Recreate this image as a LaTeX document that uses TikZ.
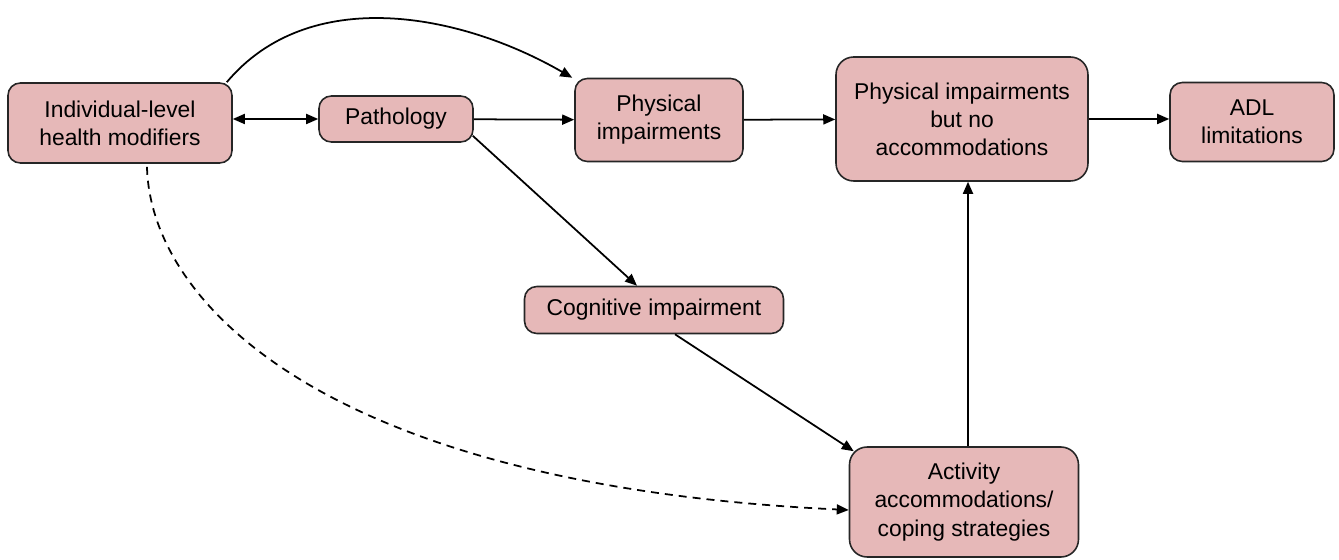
\documentclass[tikz,border=0pt]{standalone}
\usepackage{fontspec}
\setmainfont{Liberation Sans}
\usetikzlibrary{arrows.meta}
\definecolor{boxpink}{HTML}{E6B8B8}
\begin{document}
\begin{tikzpicture}[x=0.02cm, y=-0.02cm,
    box/.style={draw=black!85, fill=boxpink, line width=0.9pt, rounded corners=7pt,
        align=center, font=\fontsize{13}{16}\selectfont, inner sep=2pt},
    arr/.style={line width=1pt, -{Triangle[length=0.24cm,width=0.2cm]}}]
    \useasboundingbox (0,0) rectangle (1339,560);

    \node[box, minimum width=4.48cm, minimum height=1.6cm] (ind) at (120,123) {Individual-level\\health modifiers};
    \node[box, minimum width=3.08cm, minimum height=0.92cm] (patho) at (396,119) {Pathology};
    \node[box, minimum width=3.36cm, minimum height=1.66cm] (phys) at (659,120) {Physical\\impairments};
    \node[box, minimum width=5.04cm, minimum height=2.48cm, rounded corners=10pt] (pib) at (962,119) {Physical impairments\\but no\\accommodations};
    \node[box, minimum width=3.28cm, minimum height=1.58cm] (adl) at (1252,122) {ADL\\limitations};
    \node[box, minimum width=5.18cm, minimum height=0.94cm] (cog) at (654,310) {Cognitive impairment};
    \node[box, minimum width=4.58cm, minimum height=2.2cm, rounded corners=10pt] (act) at (964,502) {Activity\\accommodations/\\coping strategies};

    \draw[arr, {Triangle[length=0.24cm,width=0.2cm]}-{Triangle[length=0.24cm,width=0.2cm]}] (patho.west -| ind.east) -- (patho.west);
    \draw[arr] (patho) -- (phys);
    \draw[arr] (phys) -- (pib);
    \draw[arr] (pib.east) -- (pib.east -| adl.west);
    \draw[arr] ([xshift=-0.12cm]ind.north east) to[out=50, in=150, looseness=0.95] ([xshift=-0.04cm]phys.north west);
    \draw[arr] ([shift={(-0.02cm,0.14cm)}]patho.south east) -- ([xshift=-0.34cm]cog.north);
    \draw[arr] ([xshift=0.42cm]cog.south) -- ([shift={(0.1cm,-0.1cm)}]act.north west);
    \draw[arr] ([xshift=0.08cm]act.north) -- ([xshift=0.08cm]act.north |- pib.south);

    % dashed link
    \draw[arr, dash pattern=on 0.16cm off 0.12cm] ([shift={(0.54cm,-0.06cm)}]ind.south) .. controls (150,300) and (320,485) .. ([yshift=-0.16cm]act.west);
\end{tikzpicture}
\end{document}
